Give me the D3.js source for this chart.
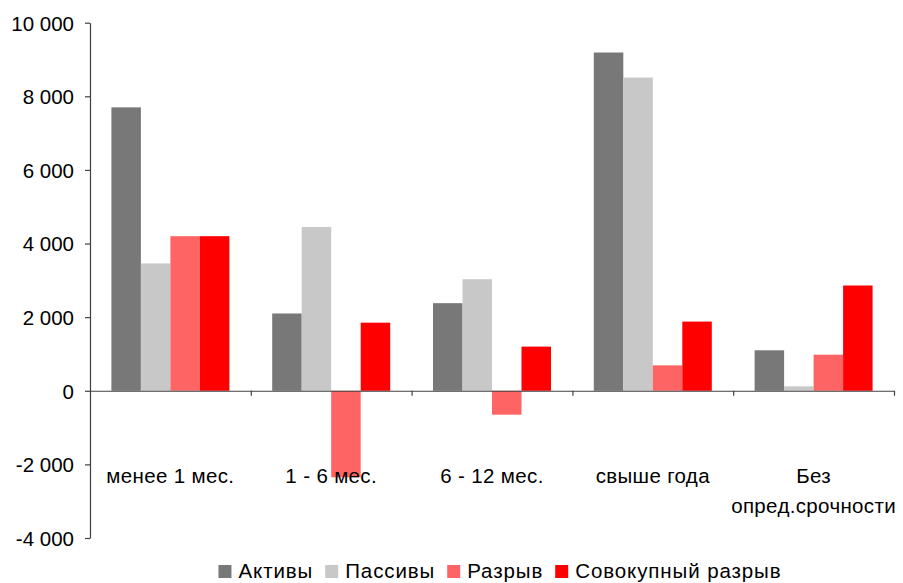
<!DOCTYPE html>
<html>
<head>
<meta charset="utf-8">
<script src="https://cdn.jsdelivr.net/npm/d3@7"></script>
<style>
  html, body { margin: 0; padding: 0; background: #fff; }
  svg { display: block; font-family: "Liberation Sans", Arial, sans-serif; }
</style>
</head>
<body>
<svg id="chart" width="903" height="583"></svg>
<script>
const categories = [["менее 1 мес."], ["1 - 6 мес."], ["6 - 12 мес."], ["свыше года"], ["Без", "опред.срочности"]];
const seriesNames = ["Активы", "Пассивы", "Разрыв", "Совокупный разрыв"];
const assets   = [7700, 2100, 2380, 9190, 1100];
const liabs    = [3460, 4450, 3030, 8510, 120];
const gap      = [4200, -2350, -650, 690, 980];
const cumGap   = [4200, 1850, 1200, 1880, 2860];
const yTicks   = [-4000, -2000, 0, 2000, 4000, 6000, 8000, 10000];
const colors   = ["#787878", "#C8C8C8", "#FF6464", "#FF0000"];

const seriesValues = [assets, liabs, gap, cumGap];
const svg = d3.select("#chart");

const x0 = 90, x1 = 894;
const y = d3.scaleLinear().domain([-4000, 10000]).range([538, 22.7]);
const xBand = d3.scaleBand().domain(d3.range(categories.length)).range([x0, x1]).paddingInner(0).paddingOuter(0);
const groupW = 118;
const xInner = d3.scaleBand().domain(d3.range(seriesNames.length)).range([0, groupW]).padding(0);

// bars
seriesValues.forEach((vals, si) => {
  svg.append("g").selectAll("rect").data(vals).join("rect")
    .attr("x", (d, i) => xBand(i) + (xBand.bandwidth() - groupW) / 2 + xInner(si))
    .attr("width", xInner.bandwidth())
    .attr("y", d => y(Math.max(0, d)))
    .attr("height", d => Math.abs(y(d) - y(0)))
    .attr("fill", colors[si]);
});

const fmt = v => d3.format(",")(v).replace(/,/g, "\u00a0").replace("−", "-");

// y axis
const yAxis = d3.axisLeft(y).tickValues(yTicks).tickSize(5).tickSizeOuter(0).tickPadding(11)
  .tickFormat(d => fmt(d));
const gy = svg.append("g").attr("transform", `translate(${x0},0)`).call(yAxis);
gy.attr("font-family", null).attr("font-size", null);
gy.select(".domain").attr("stroke", "#404040").attr("stroke-width", 1.2);
gy.selectAll(".tick line").attr("stroke", "#404040").attr("stroke-width", 1.2);
gy.selectAll(".tick text").attr("font-size", 20.5).attr("fill", "#000")
  .attr("dy", "0.36em");

// x axis at zero
const xAxisScale = d3.scaleLinear().domain([0, categories.length]).range([x0, x1]);
const xAxis = d3.axisBottom(xAxisScale).tickValues(d3.range(1, categories.length + 1)).tickSize(5).tickSizeOuter(0).tickFormat("");
const gx = svg.append("g").attr("transform", `translate(0,${y(0)})`).call(xAxis);
gx.select(".domain").attr("stroke", "#404040").attr("stroke-width", 1.2);
gx.selectAll(".tick line").attr("stroke", "#404040").attr("stroke-width", 1.2);

// category labels
const lab = svg.append("g").selectAll("text").data(categories).join("text")
  .attr("x", (d, i) => xBand(i) + xBand.bandwidth() / 2)
  .attr("y", 483)
  .attr("text-anchor", "middle")
  .attr("font-size", 20.5)
  .attr("letter-spacing", 0.35)
  .attr("fill", "#000");
lab.selectAll("tspan").data(d => d).join("tspan")
  .attr("x", function() { return d3.select(this.parentNode).attr("x"); })
  .attr("dy", (d, i) => i === 0 ? 0 : 30)
  .text(d => d);

// legend
const lg = svg.append("g");
let cx = 0;
seriesNames.forEach((name, i) => {
  const g = lg.append("g").attr("transform", `translate(${cx},0)`);
  g.append("rect").attr("x", 0).attr("y", -13).attr("width", 13).attr("height", 13).attr("fill", colors[i]);
  const t = g.append("text").attr("x", 20).attr("y", 0).attr("font-size", 20.5)
    .attr("letter-spacing", 0.9).attr("fill", "#000").text(name);
  const w = t.node().getComputedTextLength();
  cx += 20 + w + 12;
});
const totalW = cx - 12;
lg.attr("transform", `translate(${500 - totalW / 2},578)`);
</script>
</body>
</html>
